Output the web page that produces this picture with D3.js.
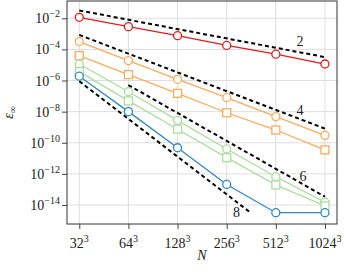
<!DOCTYPE html>
<html>
<head>
<meta charset="utf-8">
<script src="https://cdn.jsdelivr.net/npm/d3@7"></script>
<style>
  body { margin: 0; background: #fff; }
</style>
</head>
<body>
<svg id="chart"></svg>
<script>
// grid sizes and error values
const N = [32, 64, 128, 256, 512, 1024];
const redCircle = [1.15e-2, 2.9e-3, 7.6e-4, 1.8e-4, 4.9e-5, 1.15e-5];
const orangeCircle = [3.2e-4, 1.9e-5, 1.2e-6, 7.9e-8, 4.8e-9, 3.0e-10];
const orangeSquare = [4.0e-5, 2.4e-6, 1.5e-7, 8.5e-9, 6.6e-10, 3.5e-11];
const greenCircle = [1.15e-5, 1.9e-7, 2.75e-9, 4.0e-11, 6.6e-13, 1.5e-14];
const greenSquare = [3.7e-6, 4.9e-8, 7.4e-10, 1.1e-11, 1.95e-13, 8.7e-15];
const blueCircle = [1.9e-6, 1.0e-8, 4.8e-11, 2.1e-13, 3.2e-15, 3.2e-15];

// slope guide lines (order, start/end N, start/end error)
const refOrder = ['2', '4', '6', '8'];
const refN0 = [32, 32, 64, 32];
const refN1 = [1024, 1024, 1024, 360];
const refE0 = [3.2e-2, 8.5e-4, 5.1e-7, 9e-7];
const refE1 = [3.2e-5, 8.1e-10, 3.4e-14, 3.1e-15];
const refLabelN = [720, 720, 750, 294];
const refLabelE = [3e-4, 1.26e-8, 6.6e-13, 3.1e-15];

const yTickExp = [-2, -4, -6, -8, -10, -12, -14];

const W = 347, H = 271;
const margin = { top: 1, right: 10, bottom: 47, left: 67 };
const FONT = "'Liberation Serif', 'Times New Roman', 'DejaVu Serif', serif";

const svg = d3.select('#chart').attr('width', W).attr('height', H)
  .attr('font-family', FONT);

const x = d3.scaleLog().base(2)
  .domain([32 * Math.pow(2, -0.25), 1024 * Math.pow(2, 0.245)])
  .range([margin.left, W - margin.right]);
const y = d3.scaleLog()
  .domain([Math.pow(10, -15.22), Math.pow(10, -0.89)])
  .range([H - margin.bottom, margin.top]);

const yTicks = yTickExp.map(e => Math.pow(10, e));

// grid
const grid = svg.append('g');
grid.selectAll('.gx').data(N).enter().append('line')
  .attr('x1', d => x(d)).attr('x2', d => x(d))
  .attr('y1', margin.top).attr('y2', H - margin.bottom)
  .attr('stroke', '#ddd').attr('stroke-width', 1);
grid.selectAll('.gy').data(yTicks).enter().append('line')
  .attr('x1', margin.left).attr('x2', W - margin.right)
  .attr('y1', d => y(d)).attr('y2', d => y(d))
  .attr('stroke', '#ddd').attr('stroke-width', 1);

// axes (ticks only, labels drawn below)
const xAxis = svg.append('g')
  .attr('transform', `translate(0,${H - margin.bottom})`)
  .call(d3.axisBottom(x).tickValues(N).tickSize(5).tickFormat(''));
const yAxis = svg.append('g')
  .attr('transform', `translate(${margin.left},0)`)
  .call(d3.axisLeft(y).tickValues(yTicks).tickSize(5).tickFormat(''));
[xAxis, yAxis].forEach(a => {
  a.select('.domain').remove();
  a.selectAll('line').attr('stroke', '#444');
});

// tick labels with superscripts
svg.append('g').selectAll('text').data(N).enter().append('text')
  .attr('x', d => x(d)).attr('y', H - margin.bottom + 24)
  .attr('text-anchor', 'middle').attr('font-size', 14).attr('fill', '#222')
  .each(function (d) {
    const t = d3.select(this);
    t.append('tspan').text(d);
    t.append('tspan').attr('font-size', 10).attr('dy', -6).text('3');
  });

svg.append('g').selectAll('text').data(yTickExp).enter().append('text')
  .attr('x', margin.left - 7).attr('y', e => y(Math.pow(10, e)) + 5)
  .attr('text-anchor', 'end').attr('font-size', 14).attr('fill', '#222')
  .each(function (e) {
    const t = d3.select(this);
    t.append('tspan').text('10');
    t.append('tspan').attr('font-size', 10).attr('dy', -6).text('\u2212' + (-e));
  });

// axis titles
svg.append('text')
  .attr('x', (margin.left + W - margin.right) / 2).attr('y', H - 11)
  .attr('text-anchor', 'middle').attr('font-size', 14).attr('font-style', 'italic')
  .attr('fill', '#222').text('N');
svg.append('text')
  .attr('transform', `translate(13,${(margin.top + H - margin.bottom) / 2}) rotate(-90)`)
  .attr('text-anchor', 'middle').attr('font-size', 14).attr('fill', '#222')
  .each(function () {
    const t = d3.select(this);
    t.append('tspan').attr('font-style', 'italic').text('\u03B5');
    t.append('tspan').attr('font-size', 10).attr('dy', 3).text('\u221E');
  });

// reference slope lines
const refs = refOrder.map((o, i) => ({ o, n0: refN0[i], n1: refN1[i], e0: refE0[i], e1: refE1[i], ln: refLabelN[i], le: refLabelE[i] }));
svg.append('g').selectAll('line').data(refs).enter().append('line')
  .attr('x1', d => x(d.n0)).attr('y1', d => y(d.e0))
  .attr('x2', d => x(d.n1)).attr('y2', d => y(d.e1))
  .attr('stroke', '#000').attr('stroke-width', 2).attr('stroke-dasharray', '4,3');
svg.append('g').selectAll('text').data(refs).enter().append('text')
  .attr('x', d => x(d.ln)).attr('y', d => y(d.le))
  .attr('text-anchor', 'middle').attr('dominant-baseline', 'central')
  .attr('font-size', 14).attr('fill', '#222').text(d => d.o);

// data series
const series = [
  { v: redCircle, c: '#e31a1c', m: 'circle' },
  { v: orangeCircle, c: '#fdaa5e', m: 'circle' },
  { v: orangeSquare, c: '#fdaa5e', m: 'square' },
  { v: greenCircle, c: '#addc9f', m: 'circle' },
  { v: greenSquare, c: '#addc9f', m: 'square' },
  { v: blueCircle, c: '#2f87c3', m: 'circle' }
];
const line = d3.line().x((d, i) => x(N[i])).y(d => y(d));
series.forEach(s => {
  const g = svg.append('g');
  g.append('path').attr('d', line(s.v))
    .attr('fill', 'none').attr('stroke', s.c).attr('stroke-width', 1.3);
  if (s.m === 'circle') {
    g.selectAll('circle').data(s.v).enter().append('circle')
      .attr('cx', (d, i) => x(N[i])).attr('cy', d => y(d)).attr('r', 4)
      .attr('fill', '#fff').attr('stroke', s.c).attr('stroke-width', 1.3);
  } else {
    g.selectAll('rect').data(s.v).enter().append('rect')
      .attr('x', (d, i) => x(N[i]) - 4).attr('y', d => y(d) - 4)
      .attr('width', 8).attr('height', 8)
      .attr('fill', '#fff').attr('stroke', s.c).attr('stroke-width', 1.3);
  }
});

// frame
svg.append('rect')
  .attr('x', margin.left).attr('y', margin.top)
  .attr('width', W - margin.right - margin.left)
  .attr('height', H - margin.bottom - margin.top)
  .attr('fill', 'none').attr('stroke', '#333').attr('stroke-width', 1);
</script>
</body>
</html>
